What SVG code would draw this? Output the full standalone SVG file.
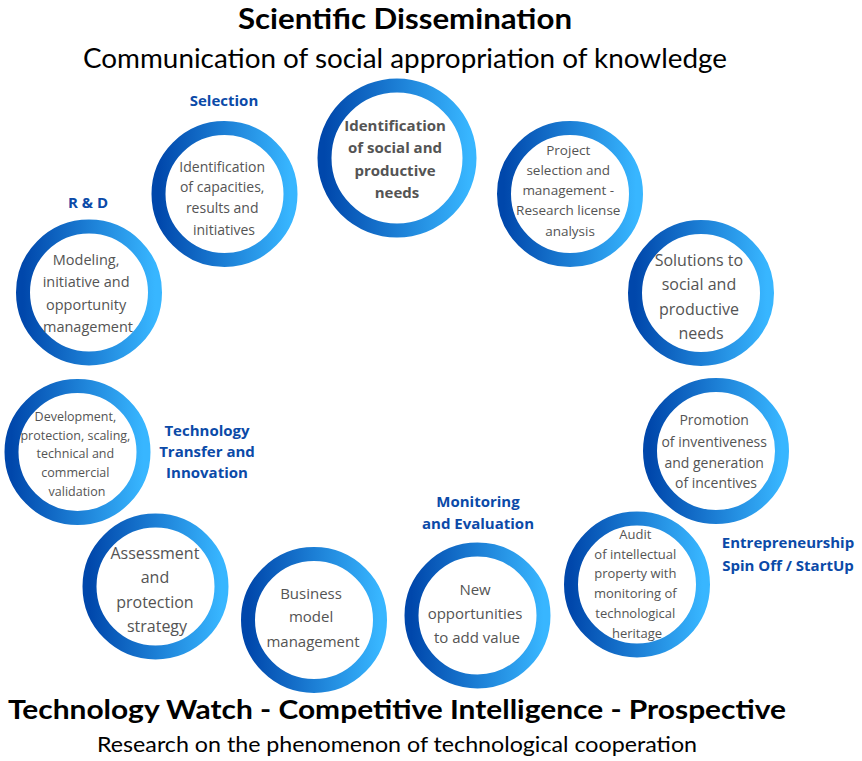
<svg xmlns="http://www.w3.org/2000/svg" width="862" height="761" viewBox="0 0 862 761">
  <defs>
    <linearGradient id="ring" x1="0" y1="0" x2="1" y2="0">
      <stop offset="0" stop-color="#0047ab"/>
      <stop offset="1" stop-color="#38b6ff"/>
    </linearGradient>
    <style>
      .ring { fill: #ffffff; stroke: url(#ring); stroke-width: 14; }
      .body { font-family: "Open Sans", "Liberation Sans", sans-serif; fill: #545454; text-anchor: middle; }
      .strong { font-weight: bold; }
      .tag { font-family: "Open Sans", "Liberation Sans", sans-serif; font-weight: bold; fill: #0b4aa8; text-anchor: middle; font-size: 15px; }
      .head { font-family: Lato, "Liberation Sans", sans-serif; fill: #000000; text-anchor: middle; }
    </style>
  </defs>
  <rect width="862" height="761" fill="#ffffff"/>

  <!-- titles -->
  <g id="titles">
    <text class="head" x="405" y="29" font-size="28" font-weight="bold" textLength="334" lengthAdjust="spacingAndGlyphs">Scientific Dissemination</text>
    <text class="head" x="405" y="68" font-size="26" textLength="644" lengthAdjust="spacingAndGlyphs">Communication of social appropriation of knowledge</text>
    <text class="head" x="397" y="719" font-size="27" font-weight="bold" textLength="778" lengthAdjust="spacingAndGlyphs">Technology Watch - Competitive Intelligence - Prospective</text>
    <text class="head" x="397" y="752" font-size="21" textLength="600" lengthAdjust="spacingAndGlyphs">Research on the phenomenon of technological cooperation</text>
  </g>

  <!-- stage labels -->
  <g id="labels">
    <text class="tag" x="224" y="106">Selection</text>
    <text class="tag" x="88" y="208">R &amp; D</text>
    <text class="tag" x="207" y="436">Technology</text>
    <text class="tag" x="207" y="457">Transfer and</text>
    <text class="tag" x="207" y="478">Innovation</text>
    <text class="tag" x="478" y="507">Monitoring</text>
    <text class="tag" x="478" y="529">and Evaluation</text>
    <text class="tag" x="788" y="548">Entrepreneurship</text>
    <text class="tag" x="788" y="571">Spin Off / StartUp</text>
  </g>

  <g id="connectors"></g>

  <g id="needs">
    <circle class="ring" cx="397" cy="158" r="72.5" stroke-width="15"/>
    <text class="body strong" font-size="15">
      <tspan x="397" y="131">Identification</tspan>
      <tspan x="397" y="153">of social and</tspan>
      <tspan x="397" y="176">productive</tspan>
      <tspan x="397" y="198">needs</tspan>
    </text>
  </g>

  <g id="capacities">
    <circle class="ring" cx="224.5" cy="194" r="66"/>
    <text class="body" font-size="14">
      <tspan x="224" y="172">Identification</tspan>
      <tspan x="224" y="192">of capacities,</tspan>
      <tspan x="224" y="213">results and</tspan>
      <tspan x="224" y="235">initiatives</tspan>
    </text>
  </g>

  <g id="project">
    <circle class="ring" cx="570" cy="194" r="66"/>
    <text class="body" font-size="13.5">
      <tspan x="570" y="155">Project</tspan>
      <tspan x="570" y="175">selection and</tspan>
      <tspan x="570" y="195">management -</tspan>
      <tspan x="570" y="215">Research license</tspan>
      <tspan x="570" y="236">analysis</tspan>
    </text>
  </g>

  <g id="modeling">
    <circle class="ring" cx="89" cy="292.5" r="66"/>
    <text class="body" font-size="14.5">
      <tspan x="88" y="265">Modeling,</tspan>
      <tspan x="88" y="287">initiative and</tspan>
      <tspan x="88" y="310">opportunity</tspan>
      <tspan x="88" y="332">management</tspan>
    </text>
  </g>

  <g id="solutions">
    <circle class="ring" cx="701" cy="293" r="66"/>
    <text class="body" font-size="16">
      <tspan x="701" y="266">Solutions to</tspan>
      <tspan x="701" y="290">social and</tspan>
      <tspan x="701" y="315">productive</tspan>
      <tspan x="701" y="339">needs</tspan>
    </text>
  </g>

  <g id="development">
    <circle class="ring" cx="77.5" cy="452" r="66"/>
    <text class="body" font-size="12.5">
      <tspan x="77" y="421">Development,</tspan>
      <tspan x="77" y="440">protection, scaling,</tspan>
      <tspan x="77" y="458">technical and</tspan>
      <tspan x="77" y="477">commercial</tspan>
      <tspan x="77" y="496">validation</tspan>
    </text>
  </g>

  <g id="promotion">
    <circle class="ring" cx="716" cy="451" r="66"/>
    <text class="body" font-size="14">
      <tspan x="716" y="425">Promotion</tspan>
      <tspan x="716" y="447">of inventiveness</tspan>
      <tspan x="716" y="468">and generation</tspan>
      <tspan x="716" y="488">of incentives</tspan>
    </text>
  </g>

  <g id="assessment">
    <circle class="ring" cx="155.5" cy="586.5" r="66"/>
    <text class="body" font-size="16">
      <tspan x="157" y="559">Assessment</tspan>
      <tspan x="157" y="583">and</tspan>
      <tspan x="157" y="608">protection</tspan>
      <tspan x="157" y="632">strategy</tspan>
    </text>
  </g>

  <g id="business">
    <circle class="ring" cx="314" cy="620" r="66"/>
    <text class="body" font-size="15">
      <tspan x="313" y="599">Business</tspan>
      <tspan x="313" y="622">model</tspan>
      <tspan x="313" y="647">management</tspan>
    </text>
  </g>

  <g id="opportunities">
    <circle class="ring" cx="477.5" cy="615.5" r="66"/>
    <text class="body" font-size="15">
      <tspan x="477" y="595">New</tspan>
      <tspan x="477" y="619">opportunities</tspan>
      <tspan x="477" y="643">to add value</tspan>
    </text>
  </g>

  <g id="audit">
    <circle class="ring" cx="637" cy="584.5" r="66"/>
    <text class="body" font-size="13">
      <tspan x="637" y="539">Audit</tspan>
      <tspan x="637" y="559">of intellectual</tspan>
      <tspan x="637" y="578">property with</tspan>
      <tspan x="637" y="598">monitoring of</tspan>
      <tspan x="637" y="618">technological</tspan>
      <tspan x="637" y="638">heritage</tspan>
    </text>
  </g>
</svg>
